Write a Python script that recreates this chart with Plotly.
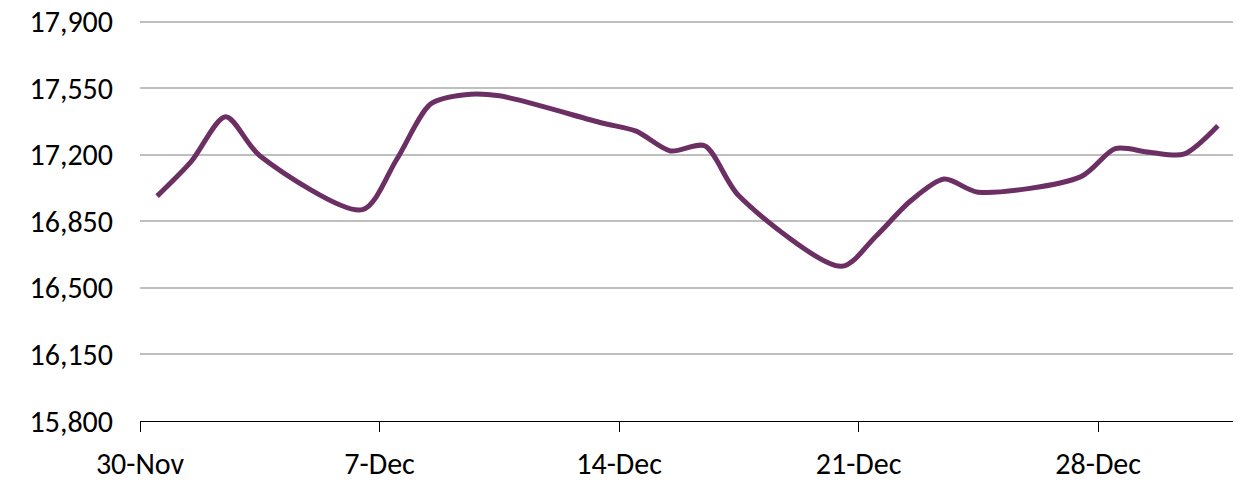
import pandas as pd
import plotly.graph_objects as go

dates = ["2021-11-30", "2021-12-01", "2021-12-02", "2021-12-03", "2021-12-06",
         "2021-12-07", "2021-12-08", "2021-12-09", "2021-12-10", "2021-12-13",
         "2021-12-14", "2021-12-15", "2021-12-16", "2021-12-17", "2021-12-20",
         "2021-12-21", "2021-12-22", "2021-12-23", "2021-12-24", "2021-12-27",
         "2021-12-28", "2021-12-29", "2021-12-30", "2021-12-31"]
values = [16983, 17166, 17401, 17196, 16912,
          17176, 17469, 17517, 17511, 17368,
          17325, 17221, 17248, 16985, 16614,
          16771, 16955, 17073, 17004, 17086,
          17233, 17214, 17204, 17354]
tick_dates = ["2021-11-30", "2021-12-07", "2021-12-14", "2021-12-21", "2021-12-28"]
tick_labels = ["30-Nov", "7-Dec", "14-Dec", "21-Dec", "28-Dec"]
y_ticks = [15800, 16150, 16500, 16850, 17200, 17550, 17900]

# points sit in the middle of each day's slot (Excel date axis)
x = pd.to_datetime(dates) + pd.Timedelta(hours=12)

fig = go.Figure()
fig.add_trace(go.Scatter(
    x=x, y=values, mode="lines",
    line=dict(color="#6B2F63", width=5, shape="spline", smoothing=0.8),
    showlegend=False, hoverinfo="skip"))

font = dict(family="Carlito, Calibri, Lato, sans-serif", size=30, color="#000000")
fig.update_layout(
    width=1233, height=475,
    margin=dict(l=132, r=6, t=12, b=62),
    paper_bgcolor="white", plot_bgcolor="white",
    font=font,
    xaxis=dict(
        type="date", automargin=False,
        range=["2021-11-30", "2022-01-01"],
        tickmode="array", tickvals=pd.to_datetime(tick_dates), ticktext=tick_labels,
        showgrid=False, zeroline=False,
        showline=True, linecolor="#000000", linewidth=1.3,
        ticks="outside", ticklen=10, tickcolor="#000000", tickwidth=1.3,
        ticklabelstandoff=6,
        tickfont=font,
    ),
    yaxis=dict(
        automargin=False,
        range=[15800, 17910],
        tickmode="array", tickvals=y_ticks,
        ticktext=[f"{v:,}" for v in y_ticks],
        showgrid=True, gridcolor="#BFBFBF", gridwidth=1.5,
        zeroline=False, showline=False, ticks="",
        ticklabelstandoff=26, ticklabeloverflow="allow",
        tickfont=font,
    ),
)
fig.write_html("out.html")
